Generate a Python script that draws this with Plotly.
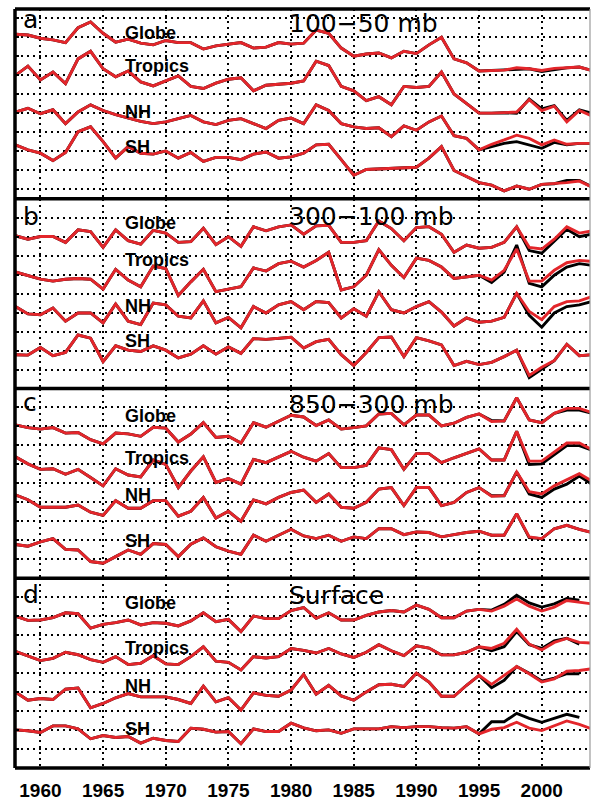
import plotly.graph_objects as go
from plotly.subplots import make_subplots

years = list(range(1958, 2005))
recent_years = list(range(1995, 2005))
recent_years_sfc = list(range(1995, 2004))

# ---------------- Panel a: 100-50 mb (offset series, grid units) -------------
a_globe = [8.17, 8.13, 7.96, 7.87, 7.73, 8.51, 8.82, 8.22, 7.75, 7.91,
           7.70, 7.61, 7.84, 7.73, 7.73, 7.39, 7.56, 7.65, 7.73, 7.44,
           7.49, 7.73, 7.65, 7.70, 8.39, 8.22, 7.44, 7.01, 7.13, 7.18,
           6.92, 7.27, 7.15, 7.61, 8.01, 6.87, 6.66, 6.23, 6.26, 6.28,
           6.40, 6.35, 6.26, 6.37, 6.40, 6.44, 6.26]
a_globe_blk = [6.23, 6.26, 6.28, 6.31, 6.35, 6.21, 6.31, 6.40, 6.44, 6.26]
a_trop = [6.00, 6.49, 5.76, 6.18, 5.57, 6.87, 7.27, 6.35, 5.93, 6.23,
          5.66, 5.45, 5.71, 5.97, 5.42, 5.31, 5.59, 5.80, 5.88, 5.19,
          5.48, 5.54, 5.59, 5.71, 6.75, 6.52, 5.42, 5.19, 4.67, 4.88,
          4.45, 5.42, 5.36, 5.42, 6.18, 5.02, 4.50, 4.01, 4.01, 4.03,
          4.07, 4.72, 4.15, 4.38, 3.55, 4.15, 3.86]
a_trop_blk = [4.01, 4.01, 4.03, 4.01, 4.76, 4.24, 4.41, 3.63, 4.19, 4.01]
a_nh = [4.07, 4.27, 3.98, 4.19, 3.46, 4.07, 4.45, 4.15, 3.93, 3.75,
        3.58, 3.46, 3.55, 3.72, 3.89, 3.55, 3.41, 3.63, 3.72, 3.46,
        3.20, 3.63, 3.75, 3.46, 4.45, 4.15, 3.46, 3.29, 3.20, 3.24,
        2.77, 3.34, 3.11, 3.55, 3.86, 2.82, 2.68, 2.08, 2.37, 2.60,
        2.85, 2.68, 2.34, 2.60, 2.37, 2.42, 2.42]
a_nh_blk = [2.08, 2.25, 2.42, 2.51, 2.34, 2.16, 2.47, 2.34, 2.42, 2.42]
a_sh = [2.34, 2.08, 1.90, 1.51, 1.94, 3.03, 3.29, 2.51, 1.64, 2.25,
        1.90, 1.85, 2.02, 1.64, 1.94, 1.47, 1.68, 1.68, 1.56, 1.85,
        1.96, 1.64, 1.71, 1.90, 2.34, 2.37, 1.56, 0.74, 1.04, 1.07,
        1.09, 1.12, 1.16, 1.64, 2.25, 0.99, 0.69, 0.35, 0.22, -0.09,
        0.17, 0.00, 0.26, 0.29, 0.35, 0.43, 0.12]
a_sh_blk = [0.35, 0.22, -0.09, 0.17, 0.00, 0.26, 0.29, 0.47, 0.47, 0.12]

# ---------------- Panel b: 300-100 mb ----------------------------------------
b_globe = [8.05, 7.87, 8.01, 8.01, 7.70, 8.36, 8.27, 7.44, 8.36, 7.79,
           7.61, 8.34, 8.19, 7.70, 7.74, 8.45, 7.58, 8.00, 7.49, 8.52,
           8.31, 8.52, 8.62, 8.13, 8.57, 8.60, 7.70, 7.70, 7.79, 8.83,
           8.43, 7.79, 8.48, 8.53, 8.13, 7.18, 7.56, 7.39, 7.44, 7.70,
           8.52, 7.44, 7.35, 7.87, 8.52, 8.19, 8.31]
b_globe_blk = [7.39, 7.44, 7.70, 8.52, 7.27, 7.13, 7.74, 8.39, 8.00, 8.13]
b_trop = [6.14, 5.97, 5.76, 5.66, 5.76, 5.80, 5.76, 5.24, 6.28, 5.71,
          5.36, 6.45, 6.32, 4.90, 5.62, 6.28, 5.10, 5.24, 5.36, 6.35,
          6.19, 6.58, 6.71, 6.40, 6.75, 7.18, 5.19, 5.36, 5.97, 7.32,
          6.49, 5.85, 6.87, 6.75, 6.40, 5.80, 5.88, 5.97, 5.71, 6.23,
          7.35, 5.66, 5.66, 6.23, 6.63, 6.75, 6.70]
b_trop_blk = [5.97, 5.59, 6.14, 7.56, 5.54, 5.36, 5.97, 6.40, 6.58, 6.49]
b_nh = [4.32, 3.93, 3.89, 4.24, 3.55, 3.98, 3.98, 3.46, 4.45, 3.55,
        3.37, 4.50, 4.41, 3.81, 3.72, 4.62, 3.46, 3.75, 3.20, 4.32,
        3.98, 4.41, 4.58, 4.15, 4.58, 4.53, 3.72, 4.20, 3.81, 5.10,
        4.15, 3.98, 4.32, 4.58, 4.03, 3.29, 3.72, 3.49, 3.55, 3.75,
        5.02, 4.06, 3.63, 4.32, 4.58, 4.62, 4.84]
b_nh_blk = [3.49, 3.55, 3.75, 5.02, 3.86, 3.23, 3.98, 4.32, 4.41, 4.58]
b_sh = [1.78, 1.76, 2.16, 1.73, 1.90, 2.82, 2.65, 1.42, 2.25, 2.02,
        1.95, 2.25, 2.02, 1.61, 1.81, 2.25, 1.81, 2.19, 1.85, 2.63,
        2.59, 2.65, 2.70, 2.13, 2.47, 2.59, 1.78, 1.21, 1.90, 2.68,
        2.71, 1.68, 2.68, 2.51, 2.30, 1.21, 1.43, 1.26, 1.38, 1.68,
        2.02, 0.69, 1.12, 1.47, 2.33, 1.73, 1.78]
b_sh_blk = [1.26, 1.38, 1.68, 2.02, 0.57, 1.03, 1.47, 2.33, 1.73, 1.78]

# ---------------- Panel c: 850-300 mb ----------------------------------------
c_globe = [8.08, 7.94, 7.86, 7.94, 7.65, 7.68, 7.30, 7.08, 7.65, 7.61,
           7.48, 7.96, 7.91, 7.18, 7.60, 8.20, 7.42, 7.48, 7.13, 8.20,
           7.96, 8.26, 8.59, 8.50, 8.05, 8.34, 7.86, 7.94, 8.03, 8.66,
           8.69, 8.08, 8.60, 8.60, 8.03, 8.17, 8.48, 8.66, 8.26, 8.29,
           9.51, 8.34, 8.20, 8.69, 8.95, 8.95, 8.73]
c_globe_blk = [8.66, 8.31, 8.29, 9.51, 8.34, 8.20, 8.69, 8.86, 8.86, 8.69]
c_trop = [6.40, 6.03, 5.74, 5.77, 5.48, 5.74, 5.31, 4.87, 5.77, 5.44,
          5.34, 6.23, 6.00, 4.78, 5.65, 6.40, 5.05, 5.25, 4.96, 6.26,
          6.09, 6.40, 6.69, 6.38, 6.17, 6.57, 5.83, 5.83, 5.95, 6.87,
          6.78, 5.74, 6.57, 6.57, 6.09, 6.35, 6.57, 6.82, 6.23, 6.23,
          7.74, 6.17, 6.17, 6.64, 7.13, 7.13, 6.78]
c_trop_blk = [6.82, 6.23, 6.23, 7.74, 6.00, 6.03, 6.52, 6.99, 6.99, 6.75]
c_nh = [4.39, 4.14, 3.74, 3.74, 3.74, 3.86, 3.48, 3.31, 4.09, 3.69,
        3.69, 4.09, 4.09, 3.27, 3.53, 4.26, 3.17, 3.53, 3.00, 4.13,
        3.92, 4.26, 4.52, 4.65, 4.00, 4.44, 3.74, 3.69, 4.00, 4.70,
        4.78, 3.83, 4.78, 4.78, 3.83, 4.00, 4.52, 4.78, 4.32, 4.35,
        5.60, 4.56, 4.44, 4.87, 5.18, 5.51, 5.13]
c_nh_blk = [4.78, 4.35, 4.35, 5.60, 4.44, 4.26, 4.70, 4.96, 5.39, 4.96]
c_sh = [1.78, 1.69, 1.92, 2.09, 1.52, 1.49, 0.88, 0.79, 1.14, 1.49,
        1.26, 1.83, 1.78, 1.14, 1.80, 2.13, 1.66, 1.43, 1.26, 2.27,
        1.95, 2.27, 2.58, 2.23, 2.09, 2.27, 1.95, 2.18, 2.09, 2.61,
        2.61, 2.30, 2.44, 2.41, 2.18, 2.30, 2.41, 2.48, 2.27, 2.27,
        3.40, 2.18, 2.09, 2.61, 2.79, 2.58, 2.41]
c_sh_blk = [2.48, 2.27, 2.27, 3.40, 2.14, 2.09, 2.61, 2.79, 2.58, 2.41]

# ---------------- Panel d: Surface -------------------------------------------
d_globe = [8.01, 7.78, 7.80, 7.92, 8.18, 8.13, 7.37, 7.57, 7.66, 7.80,
           7.54, 7.66, 7.63, 7.49, 7.75, 8.18, 7.71, 7.83, 7.19, 8.01,
           7.87, 7.87, 8.30, 8.46, 7.89, 8.18, 7.80, 7.80, 8.04, 8.22,
           8.30, 8.22, 8.58, 8.36, 7.92, 7.92, 8.27, 8.36, 8.27, 8.53,
           8.91, 8.53, 8.27, 8.48, 8.83, 8.74, 8.65]
d_globe_blk = [8.36, 8.32, 8.62, 9.10, 8.70, 8.48, 8.65, 8.93, 8.84]
d_trop = [6.15, 5.92, 5.66, 5.78, 6.10, 5.97, 5.71, 5.57, 5.87, 5.45,
          5.52, 5.92, 5.49, 5.45, 5.87, 6.39, 5.63, 5.57, 5.17, 5.87,
          5.80, 5.87, 6.30, 6.20, 6.06, 6.30, 6.01, 5.83, 6.10, 6.50,
          6.18, 5.92, 6.44, 6.32, 5.96, 5.96, 6.10, 6.39, 6.30, 6.57,
          7.31, 6.53, 6.22, 6.62, 6.83, 6.62, 6.58]
d_trop_blk = [6.39, 6.18, 6.39, 7.19, 6.50, 6.30, 6.70, 6.84, 6.53]
d_nh = [4.01, 3.57, 3.66, 3.61, 4.15, 4.22, 3.17, 3.40, 3.70, 3.92,
        3.75, 3.75, 3.75, 3.61, 3.40, 4.32, 3.49, 3.71, 3.05, 3.96,
        3.83, 3.78, 4.11, 4.93, 3.89, 4.36, 3.80, 3.57, 4.01, 4.39,
        4.41, 4.30, 5.00, 4.53, 3.78, 3.78, 4.36, 4.88, 4.41, 4.88,
        5.35, 4.97, 4.53, 4.70, 5.10, 5.14, 5.23]
d_nh_blk = [4.88, 4.23, 4.62, 5.35, 5.00, 4.58, 4.74, 4.97, 4.97]
d_sh = [2.01, 1.96, 1.87, 2.22, 2.22, 2.06, 1.54, 1.71, 1.61, 1.66,
        1.31, 1.57, 1.45, 1.40, 2.10, 2.04, 1.89, 1.92, 1.28, 2.06,
        1.92, 1.92, 2.36, 2.11, 1.96, 2.01, 1.83, 2.06, 2.06, 2.06,
        2.18, 2.13, 2.18, 2.18, 2.13, 2.10, 2.18, 1.80, 2.04, 2.13,
        2.41, 2.10, 1.97, 2.22, 2.48, 2.30, 2.06]
d_sh_blk = [1.80, 2.44, 2.44, 2.88, 2.62, 2.41, 2.62, 2.83, 2.67]

letters = ["a", "b", "c", "d"]
titles = ["100\u221250 mb", "300\u2212100 mb", "850\u2212300 mb", "Surface"]
series_names = ["Globe", "Tropics", "NH", "SH"]
x_ticks = [1960, 1965, 1970, 1975, 1980, 1985, 1990, 1995, 2000]

panels = [
    dict(red=[a_globe, a_trop, a_nh, a_sh],
         blk=[a_globe_blk, a_trop_blk, a_nh_blk, a_sh_blk],
         blk_years=recent_years, yrange=[-0.5, 9.5], tick0=0,
         label_y=[8.25, 6.48, 4.09, 2.23], title_y=8.73, letter_y=8.95),
    dict(red=[b_globe, b_trop, b_nh, b_sh],
         blk=[b_globe_blk, b_trop_blk, b_nh_blk, b_sh_blk],
         blk_years=recent_years, yrange=[0, 10], tick0=1,
         label_y=[8.72, 6.76, 4.37, 2.50], title_y=9.09, letter_y=9.04),
    dict(red=[c_globe, c_trop, c_nh, c_sh],
         blk=[c_globe_blk, c_trop_blk, c_nh_blk, c_sh_blk],
         blk_years=recent_years, yrange=[0, 10], tick0=1,
         label_y=[8.54, 6.36, 4.37, 1.96], title_y=9.16, letter_y=9.28),
    dict(red=[d_globe, d_trop, d_nh, d_sh],
         blk=[d_globe_blk, d_trop_blk, d_nh_blk, d_sh_blk],
         blk_years=recent_years_sfc, yrange=[0, 10], tick0=1,
         label_y=[8.68, 6.30, 4.33, 2.06], title_y=9.11, letter_y=9.16),
]

RED = "#e3262b"
fig = make_subplots(rows=4, cols=1, shared_xaxes=True, vertical_spacing=0)

domains = [[0.75, 1.0], [0.5, 0.75], [0.25, 0.5], [0.0, 0.25]]
annotations = []
for i, p in enumerate(panels):
    row = i + 1
    n_early = len(years) - len(recent_years)
    for red_vals, blk_recent in zip(p["red"], p["blk"]):
        blk_x = years[:n_early] + p["blk_years"]
        blk_y = red_vals[:n_early] + blk_recent
        fig.add_trace(go.Scatter(x=blk_x, y=blk_y, mode="lines",
                                 line=dict(color="black", width=2.9),
                                 showlegend=False, hoverinfo="skip"),
                      row=row, col=1)
    for red_vals in p["red"]:
        fig.add_trace(go.Scatter(x=years, y=red_vals, mode="lines",
                                 line=dict(color=RED, width=2.9),
                                 showlegend=False, hoverinfo="skip"),
                      row=row, col=1)
    yref = "y" if row == 1 else f"y{row}"
    xref = "x" if row == 1 else f"x{row}"
    for name, ly in zip(series_names, p["label_y"]):
        annotations.append(dict(x=1966.55, y=ly, xref=xref, yref=yref,
                                text=f"<b>{name}</b>", showarrow=False,
                                xanchor="left", yanchor="middle",
                                font=dict(family="Liberation Sans", size=18, color="black")))
    annotations.append(dict(x=1979.65, y=p["title_y"], xref=xref, yref=yref,
                            text=titles[i], showarrow=False,
                            xanchor="left", yanchor="middle",
                            font=dict(family="DejaVu Sans", size=25, color="black")))
    annotations.append(dict(x=1958.45, y=p["letter_y"], xref=xref, yref=yref,
                            text=letters[i], showarrow=False,
                            xanchor="left", yanchor="middle",
                            font=dict(family="DejaVu Sans", size=25, color="black")))

    fig.update_yaxes(row=row, col=1, domain=domains[i], range=p["yrange"],
                     tick0=p["tick0"], dtick=1, showgrid=True,
                     gridcolor="black", gridwidth=1.5, griddash="2px,4px",
                     zeroline=False, showline=False, showticklabels=False,
                     ticks="inside", ticklen=4, tickwidth=1.5, tickcolor="black")
    fig.update_xaxes(row=row, col=1, range=[1957.97, 2003.85],
                     tickvals=x_ticks, showgrid=True,
                     gridcolor="black", gridwidth=1.5, griddash="2px,4px",
                     zeroline=False, showline=False, ticks="",
                     showticklabels=(row == 4))

fig.update_xaxes(row=4, col=1, tickfont=dict(family="Liberation Sans", size=19, color="black"),
                 ticktext=[f"<b>{t}</b>" for t in x_ticks], tickvals=x_ticks,
                 ticks="outside", ticklen=5, tickcolor="rgba(0,0,0,0)")

shapes = []
for d in domains:
    shapes.append(dict(type="line", xref="paper", yref="paper", x0=0, x1=1,
                       y0=d[1], y1=d[1], line=dict(color="black", width=3.5)))
shapes.append(dict(type="line", xref="paper", yref="paper", x0=0, x1=1,
                   y0=0, y1=0, line=dict(color="black", width=3.5)))
shapes.append(dict(type="line", xref="paper", yref="paper", x0=0, x1=0,
                   y0=0, y1=1, line=dict(color="black", width=3.5)))
shapes.append(dict(type="line", xref="paper", yref="paper", x0=1, x1=1,
                   y0=0, y1=1, line=dict(color="#9a9a9a", width=1.2)))

fig.update_layout(width=591, height=802,
                  margin=dict(l=15, r=1, t=9, b=25),
                  plot_bgcolor="white", paper_bgcolor="white",
                  annotations=annotations, shapes=shapes, showlegend=False)

fig.write_html("out.html", config={"displayModeBar": False},
               post_script="document.body.style.margin='0';document.body.style.overflow='hidden';")
